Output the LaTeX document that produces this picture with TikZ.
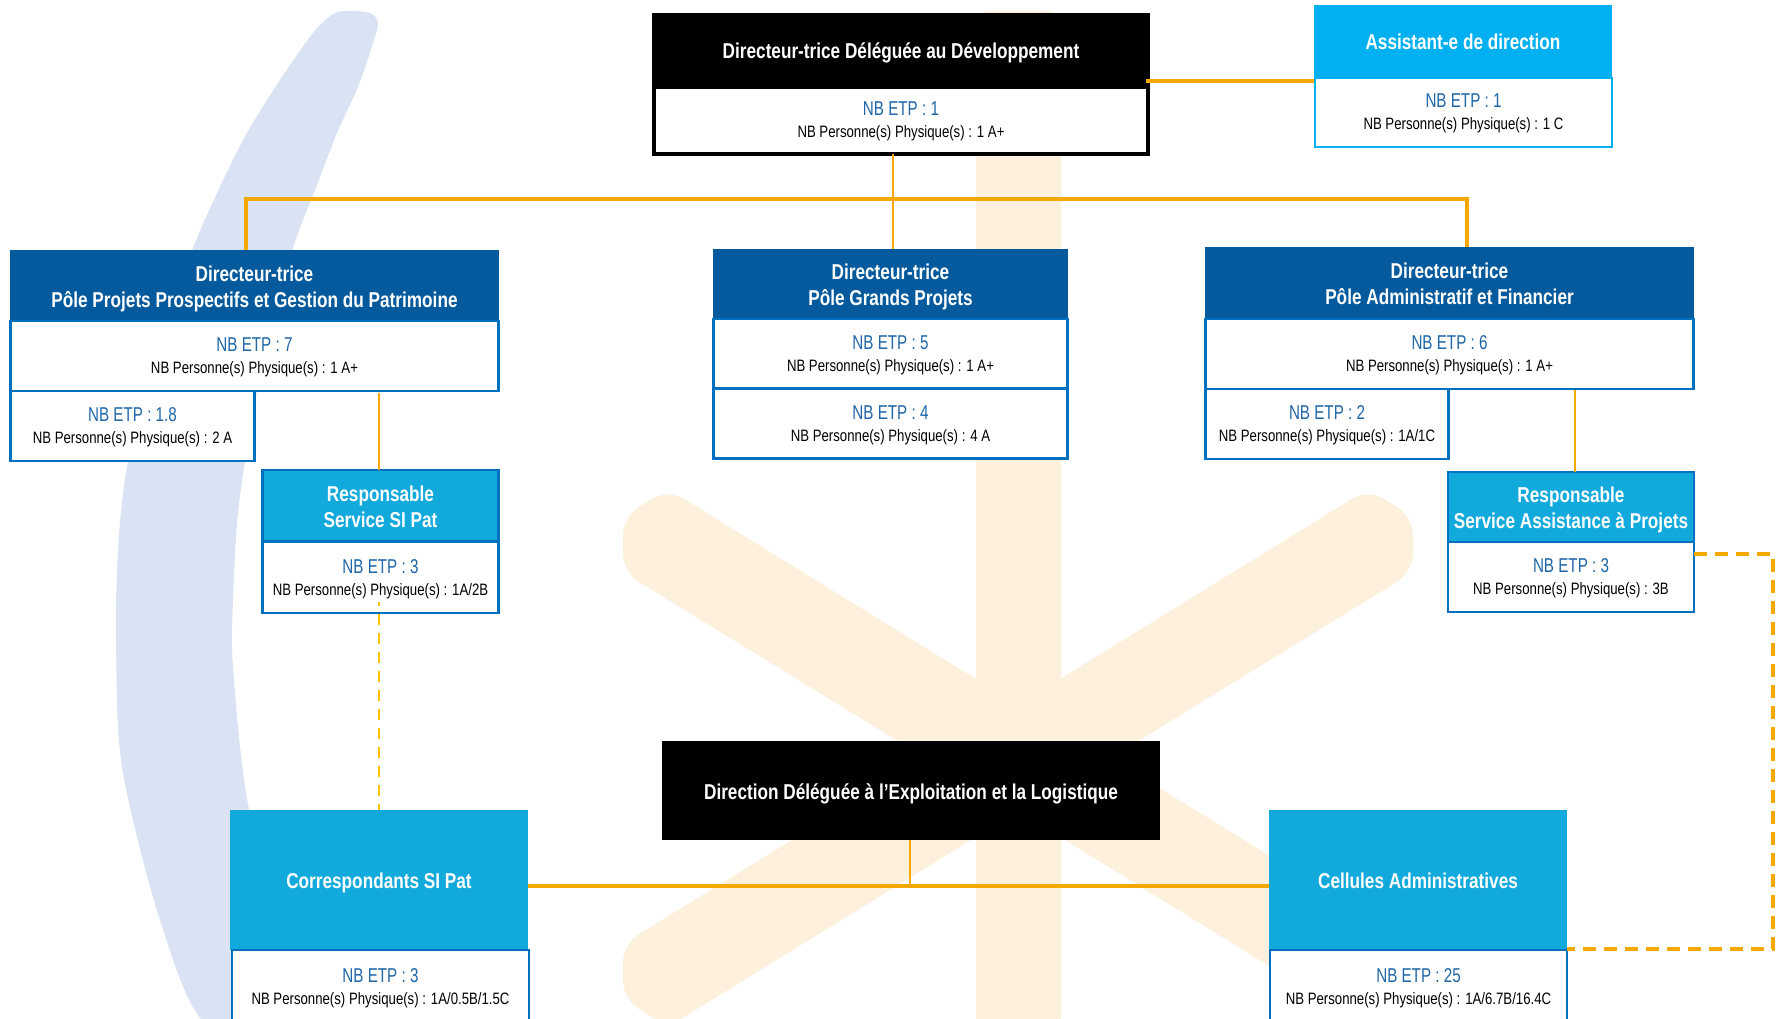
\documentclass[tikz,border=0pt]{standalone}
\usepackage{fontspec}
\setmainfont{Liberation Sans}
\newfontfamily\nf[FakeStretch=0.80]{Liberation Sans}
\newfontfamily\ef[FakeStretch=0.76]{Liberation Sans}
\definecolor{orangeline}{HTML}{F5A800}
\definecolor{dashyellow}{HTML}{FFC000}
\definecolor{darkhead}{HTML}{045A9C}
\definecolor{lighthead}{HTML}{12A9DC}
\definecolor{assisthead}{HTML}{00B0F0}
\definecolor{boxblue}{HTML}{0070C0}
\definecolor{etpblue}{HTML}{1F66A8}
\definecolor{peach}{HTML}{FDF0DD}
\definecolor{crescent}{HTML}{D9E3F4}
\newcommand{\bodytext}[2]{\rule{0pt}{18pt}{\ef\fontsize{20}{22}\selectfont\color{etpblue}NB ETP : #1}\\{\fontsize{16.5}{22}\selectfont NB Personne(s) Physique(s) : #2}\rule[-5pt]{0pt}{5pt}}
\newcommand{\headtext}[1]{\rule{0pt}{22pt}#1\rule[-5pt]{0pt}{5pt}}
\tikzset{
  every node/.style={inner sep=0pt,outer sep=0pt,anchor=north west,align=center,font=\nf},
  headbox/.style={text=white,font=\nf\bfseries\fontsize{21.5}{26}\selectfont},
  blackhead/.style={headbox,fill=black},
  darkbox/.style={headbox,fill=darkhead},
  lightbox/.style={headbox,fill=lighthead},
  lightframed/.style={lightbox,draw=boxblue,line width=2.5pt},
  assistbox/.style={headbox,fill=assisthead},
  bodybox/.style={fill=white,draw=boxblue,line width=2.5pt,font=\nf\fontsize{17}{22}\selectfont},
  topbody/.style={fill=white,draw=black,line width=3.5pt,font=\nf\fontsize{17}{22}\selectfont},
  assistbody/.style={fill=white,draw=assisthead,line width=2.5pt,font=\nf\fontsize{17}{22}\selectfont},
  conn/.style={draw=orangeline,line width=3.3pt},
  thinconn/.style={draw=orangeline,line width=2.5pt},
  dashA/.style={draw=dashyellow,line width=2.5pt,dash pattern=on 11pt off 8pt,dash phase=7pt},
  dashB/.style={draw=orangeline,line width=3.5pt,dash pattern=on 13pt off 8pt},
  wm/.style={fill=peach,draw=none}
}
\begin{document}
\begin{tikzpicture}[x=1pt,y=-1pt]
\path[use as bounding box,clip] (0,0) rectangle (1777,1019);
\fill[white] (0,0) rectangle (1777,1019);
% watermark
\fill[crescent] plot[smooth cycle,tension=0.5] coordinates {(333,14) (313,33) (280,80) (247,133) (217,193) (193,248) (155,350) (128,462) (120,523) (117,573) (116,640) (122,767) (160,920) (207,1025) (300,1025) (249,810) (233,667) (233,600) (237,523) (245,462) (265,350) (293,248) (315,190) (337,133) (358,87) (373,43) (378,23) (370,13) (347,11)};
\fill[wm,rounded corners=14pt] (976,1030) -- (976,11) -- (1061,11) -- (1061,1030) -- cycle;
\fill[wm] (1018,705) [rounded corners=18pt] -- (668,489) -- (623,517) -- (623,572) [sharp corners] -- (1018,815) -- cycle;
\fill[wm] (1018,705) [rounded corners=18pt] -- (1368,489) -- (1413,517) -- (1413,572) [sharp corners] -- (1018,815) -- cycle;
\fill[wm] (1018,811) [rounded corners=18pt] -- (668,1027) -- (623,999) -- (623,944) [sharp corners] -- (1018,701) -- cycle;
\fill[wm] (1018,811) [rounded corners=18pt] -- (1368,1027) -- (1413,999) -- (1413,944) [sharp corners] -- (1018,701) -- cycle;
% top
\node[blackhead,minimum width=498pt,minimum height=74pt] (th) at (652,13) {\headtext{Directeur-trice Déléguée au Développement}};
\node[topbody,minimum width=494pt,minimum height=67pt] (tb) at (654,87) {\bodytext{1}{1 A+}};
\node[assistbox,minimum width=298pt,minimum height=73pt] (ah) at (1314,5) {\headtext{Assistant-e de direction}};
\node[assistbody,minimum width=297pt,minimum height=69pt] (ab) at (1315,78) {\bodytext{1}{1 C}};
% pole 1
\node[darkbox,minimum width=489pt,minimum height=71pt] (p1h) at (10,250) {\rule{0pt}{22pt}Directeur-trice\\Pôle Projets Prospectifs et Gestion du Patrimoine\rule[-5pt]{0pt}{5pt}};
\node[bodybox,minimum width=488pt,minimum height=70pt] (p1b) at (10.5,321) {\bodytext{7}{1 A+}};
\node[bodybox,minimum width=244pt,minimum height=70pt] (p1s) at (10.5,391) {\bodytext{1.8}{2 A}};
\node[lightframed,minimum width=236pt,minimum height=71pt] (sih) at (262.5,470) {\rule{0pt}{22pt}Responsable\\Service SI Pat\rule[-5pt]{0pt}{5pt}};
\node[bodybox,minimum width=236pt,minimum height=71pt] (sib) at (262.5,542) {\bodytext{3}{1A/2B}};
% pole 2
\node[darkbox,minimum width=355pt,minimum height=70pt] (p2h) at (713,249) {\rule{0pt}{22pt}Directeur-trice\\Pôle Grands Projets\rule[-5pt]{0pt}{5pt}};
\node[bodybox,minimum width=354pt,minimum height=69pt] (p2b) at (713.5,319) {\bodytext{5}{1 A+}};
\node[bodybox,minimum width=354pt,minimum height=70pt] (p2s) at (713.5,388.5) {\bodytext{4}{4 A}};
% pole 3
\node[darkbox,minimum width=489pt,minimum height=72pt] (p3h) at (1205,247) {\rule{0pt}{22pt}Directeur-trice\\Pôle Administratif et Financier\rule[-5pt]{0pt}{5pt}};
\node[bodybox,minimum width=488pt,minimum height=70pt] (p3b) at (1205.5,319) {\bodytext{6}{1 A+}};
\node[bodybox,minimum width=243pt,minimum height=70pt] (p3s) at (1205.5,389) {\bodytext{2}{1A/1C}};
\node[lightframed,minimum width=246pt,minimum height=70pt] (aph) at (1448,472) {\rule{0pt}{22pt}Responsable\\Service Assistance à Projets\rule[-5pt]{0pt}{5pt}};
\node[bodybox,minimum width=246pt,minimum height=70pt] (apb) at (1448,542) {\bodytext{3}{3B}};
% lower
\node[blackhead,minimum width=498pt,minimum height=99pt] (dh) at (662,741) {\headtext{Direction Déléguée à l’Exploitation et la Logistique}};
\node[lightbox,minimum width=298pt,minimum height=140pt] (ch) at (230,810) {\headtext{Correspondants SI Pat}};
\node[bodybox,minimum width=297pt,minimum height=74pt] (cb) at (232,950) {\bodytext{3}{1A/0.5B/1.5C}};
\node[lightbox,minimum width=298pt,minimum height=140pt] (ph) at (1269,810) {\headtext{Cellules Administratives}};
\node[bodybox,minimum width=297pt,minimum height=74pt] (pb) at (1270,950) {\bodytext{25}{1A/6.7B/16.4C}};
% connector points
\coordinate (trunk) at (893,199);
\coordinate (left) at (246,199);
\coordinate (right) at (1467,199);
\coordinate (alink) at (1146,81);
\coordinate (silink) at (379,393);
\coordinate (aplink) at (1575,390);
\coordinate (sidash) at (379,602);
\coordinate (apdash) at (1694,554);
\coordinate (dashcorner) at (1773,554);
\coordinate (celldash) at (1567,949);
\coordinate (mid) at (910,886);
\coordinate (cj) at (528,886);
\coordinate (pj) at (1269,886);
% connectors
\draw[thinconn] (tb.south -| trunk) -- (p2h.north -| trunk);
\draw[conn] (p1h.north -| left) -- (left) -- (right) -- (p3h.north -| right);
\draw[conn] (alink) -- (alink -| ah.west);
\draw[thinconn] (silink) -- (sih.north -| silink);
\draw[thinconn] (aplink) -- (aph.north -| aplink);
\draw[dashA] (sidash) -- (ch.north -| sidash);
\draw[dashB] (apdash) -- (dashcorner) -- (dashcorner |- celldash) -- (celldash);
\draw[thinconn] (dh.south -| mid) -- (mid);
\draw[conn] (cj) -- (pj);
\end{tikzpicture}
\end{document}
